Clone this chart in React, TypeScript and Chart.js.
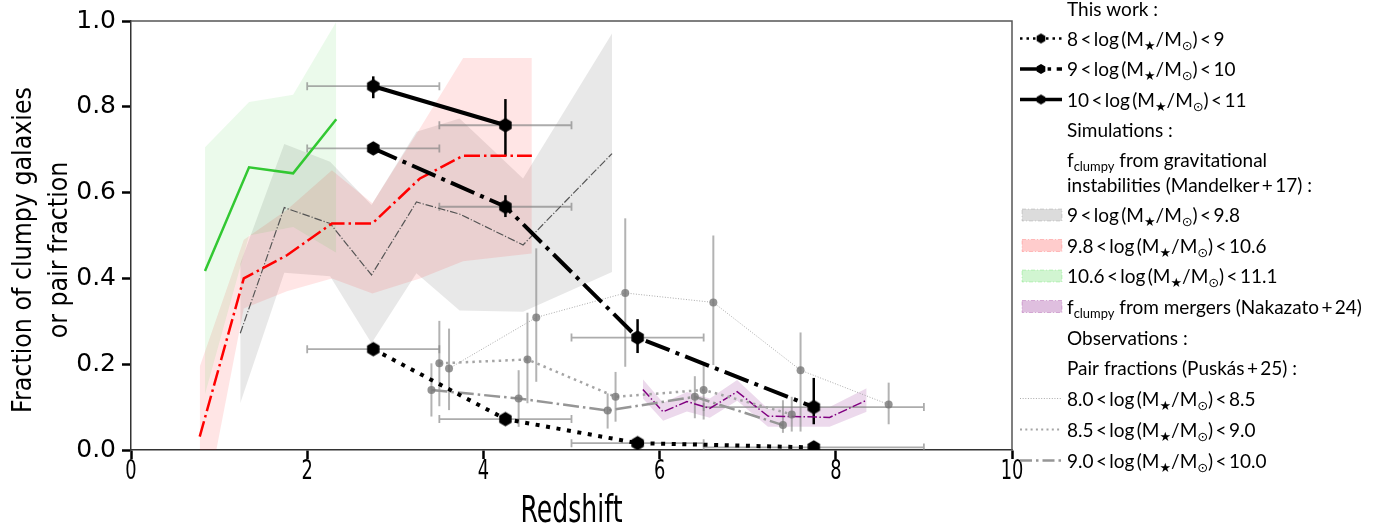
import React, { useEffect, useRef } from 'react';
import { Chart, registerables } from 'chart.js';

Chart.register(...registerables);

const W = 1382;
const H = 531;
const PLOT_LEFT = 131;
const PLOT_RIGHT = 1012;
const PLOT_TOP = 20.5;
const PLOT_BOTTOM = 450;

// ---------- This work ----------
const workZ = [2.75, 4.25, 5.75, 7.75];
const workXLo = [2.0, 3.5, 5.0, 6.5];
const workXHi = [3.5, 5.0, 6.5, 9.0];

const work1Y = [0.235, 0.072, 0.016, 0.006];
const work1YLo = [0.23, 0.067, 0.012, 0.003];
const work1YHi = [0.24, 0.077, 0.02, 0.009];

const work2Y = [0.703, 0.567, 0.262, 0.1];
const work2YLo = [0.692, 0.543, 0.226, 0.06];
const work2YHi = [0.714, 0.594, 0.305, 0.168];

const work3Z = [2.75, 4.25];
const work3Y = [0.848, 0.757];
const work3YLo = [0.82, 0.685];
const work3YHi = [0.871, 0.818];

// ---------- Simulations (Mandelker+17) ----------
const simGrayZ = [1.24, 1.74, 2.26, 2.73, 3.24, 3.73, 4.45, 5.46];
const simGrayMed = [0.272, 0.565, 0.528, 0.408, 0.578, 0.55, 0.478, 0.691];
const simGrayLo = [0.109, 0.413, 0.405, 0.249, 0.412, 0.325, 0.322, 0.415];
const simGrayHi = [0.434, 0.713, 0.672, 0.571, 0.742, 0.773, 0.633, 0.971];

const simRedZ = [0.78, 1.28, 1.77, 2.28, 2.74, 3.28, 3.77, 4.55];
const simRedMed = [0.031, 0.4, 0.454, 0.528, 0.528, 0.633, 0.686, 0.686];
const simRedLo = [-0.2, 0.33, 0.37, 0.4, 0.365, 0.4, 0.44, 0.458];
const simRedHi = [0.194, 0.49, 0.56, 0.652, 0.575, 0.75, 0.914, 0.914];

const simGreenZ = [0.84, 1.34, 1.84, 2.33];
const simGreenMed = [0.417, 0.659, 0.645, 0.771];
const simGreenLo = [0.13, 0.5, 0.52, 0.46];
const simGreenHi = [0.706, 0.811, 0.828, 0.998];

// ---------- Mergers (Nakazato+24) ----------
const nakZ = [5.81, 6.04, 6.31, 6.57, 6.88, 7.23, 7.52, 7.93, 8.35];
const nakMed = [0.141, 0.089, 0.113, 0.097, 0.136, 0.079, 0.078, 0.076, 0.116];
const nakLo = [0.12, 0.068, 0.09, 0.075, 0.115, 0.054, 0.054, 0.054, 0.089];
const nakHi = [0.165, 0.11, 0.135, 0.12, 0.163, 0.096, 0.1, 0.1, 0.144];

// ---------- Observations (Puskás+25) ----------
const obsAZ = [3.61, 4.6, 5.61, 6.61, 7.6, 8.6];
const obsAY = [0.19, 0.309, 0.366, 0.344, 0.186, 0.106];
const obsALo = [0.093, 0.159, 0.194, 0.198, 0.043, 0.06];
const obsAHi = [0.283, 0.47, 0.54, 0.5, 0.274, 0.157];

const obsBZ = [3.5, 4.5, 5.5, 6.5, 7.5];
const obsBY = [0.202, 0.211, 0.124, 0.14, 0.083];
const obsBLo = [0.102, 0.109, 0.066, 0.071, 0.043];
const obsBHi = [0.301, 0.32, 0.182, 0.198, 0.124];

const obsCZ = [3.41, 4.4, 5.41, 6.4, 7.4];
const obsCY = [0.14, 0.12, 0.092, 0.124, 0.058];
const obsCLo = [0.078, 0.054, 0.05, 0.074, 0.04];
const obsCHi = [0.202, 0.186, 0.132, 0.172, 0.116];

// ---------- Axis ticks ----------
const xTickValues = [0, 2, 4, 6, 8, 10];
const yTickValues = [0, 0.2, 0.4, 0.6, 0.8, 1.0];

const pts = (xs: number[], ys: number[]) => xs.map((x, i) => ({ x, y: ys[i] }));

function makeHex(r: number, color: string): HTMLCanvasElement {
  const s = Math.ceil(2 * r + 2);
  const c = document.createElement('canvas');
  c.width = s;
  c.height = s;
  const g = c.getContext('2d')!;
  g.fillStyle = color;
  g.beginPath();
  for (let k = 0; k < 6; k++) {
    const a = -Math.PI / 2 + (k * Math.PI) / 3;
    const px = s / 2 + r * Math.cos(a);
    const py = s / 2 + r * Math.sin(a);
    if (k === 0) g.moveTo(px, py);
    else g.lineTo(px, py);
  }
  g.closePath();
  g.fill();
  return c;
}

type Run = { t: string; sub?: boolean };
const LEG_FONT = 'Lato, "DejaVu Sans", sans-serif';

function drawRich(ctx: CanvasRenderingContext2D, x: number, y: number, runs: Run[], size: number) {
  let cx = x;
  for (const r of runs) {
    const fs = r.sub ? size * 0.68 : size;
    ctx.font = `${fs}px ${LEG_FONT}`;
    ctx.fillText(r.t, cx, r.sub ? y + size * 0.22 : y);
    cx += ctx.measureText(r.t).width;
  }
}

const SP = '\u2009';
const massRuns = (lo: string, hi: string): Run[] => [
  { t: `${lo}${SP}<${SP}log${SP}(M` },
  { t: '★', sub: true },
  { t: '/M' },
  { t: '⊙', sub: true },
  { t: `)${SP}<${SP}${hi}` },
];

export default function App() {
  const ref = useRef<HTMLCanvasElement>(null);

  useEffect(() => {
    const canvas = ref.current;
    if (!canvas) return;
    const hex = makeHex(7.2, '#000');
    const hexSmall = makeHex(5, '#000');
    const obsCol = 'rgba(120,120,120,0.8)';

    const lineDs = (label: string, data: any[], color: string, width: number, dash: number[], extra: any = {}) => ({
      label,
      data,
      borderColor: color,
      backgroundColor: color,
      borderWidth: width,
      borderDash: dash,
      borderCapStyle: 'butt',
      pointRadius: 0,
      tension: 0,
      fill: false,
      ...extra,
    });

    const datasets: any[] = [];
    datasets.push(lineDs('w3', pts(work3Z, work3Y), '#000', 4, [], { pointStyle: hex, pointRadius: 6 }));
    datasets.push(lineDs('w2', pts(workZ, work2Y), '#000', 4, [25.6, 6.4, 4, 6.4], { pointStyle: hex, pointRadius: 6 }));
    datasets.push(lineDs('w1', pts(workZ, work1Y), '#000', 4, [4, 6.6], { pointStyle: hex, pointRadius: 6 }));
    datasets.push(lineDs('obsC', pts(obsCZ, obsCY), 'rgba(150,150,150,1)', 2.5, [16, 4, 2.5, 4], { pointRadius: 4, pointBackgroundColor: obsCol, pointBorderWidth: 0 }));
    datasets.push(lineDs('obsB', pts(obsBZ, obsBY), 'rgba(165,165,165,1)', 2.5, [2.5, 4.1], { pointRadius: 4, pointBackgroundColor: obsCol, pointBorderWidth: 0 }));
    datasets.push(lineDs('obsA', pts(obsAZ, obsAY), 'rgba(170,170,170,1)', 1, [1, 1.65], { pointRadius: 4, pointBackgroundColor: obsCol, pointBorderWidth: 0 }));
    datasets.push(lineDs('nak', pts(nakZ, nakMed), 'rgb(128,0,128)', 1.5, [9.6, 2.4, 1.5, 2.4]));
    datasets.push(lineDs('green', pts(simGreenZ, simGreenMed), 'rgb(50,200,50)', 2.5, []));
    datasets.push(lineDs('red', pts(simRedZ, simRedMed), 'rgb(255,0,0)', 2.5, [16, 4, 2.5, 4]));
    datasets.push(lineDs('gray', pts(simGrayZ, simGrayMed), 'rgb(85,85,85)', 1.2, [7.7, 1.9, 1.2, 1.9]));

    const band = (name: string, xs: number[], lo: number[], hi: number[], fillColor: string) => {
      const hiIdx = datasets.length;
      datasets.push(lineDs(name + 'Hi', pts(xs, hi), 'rgba(0,0,0,0)', 0, [], { fill: { target: hiIdx + 1 }, backgroundColor: fillColor }));
      datasets.push(lineDs(name + 'Lo', pts(xs, lo), 'rgba(0,0,0,0)', 0, []));
    };
    band('nak', nakZ, nakLo, nakHi, 'rgba(128,0,128,0.15)');
    band('green', simGreenZ, simGreenLo, simGreenHi, 'rgba(0,190,0,0.08)');
    band('red', simRedZ, simRedLo, simRedHi, 'rgba(255,0,0,0.1)');
    band('gray', simGrayZ, simGrayLo, simGrayHi, 'rgba(128,128,128,0.18)');

    const errPlugin = {
      id: 'errbars',
      beforeDatasetsDraw(chart: any) {
        const { ctx, chartArea: a, scales } = chart;
        const xs = scales.x;
        const ys = scales.y;
        ctx.save();
        ctx.beginPath();
        ctx.rect(a.left, a.top, a.right - a.left, a.bottom - a.top);
        ctx.clip();
        const vbar = (x: number[], lo: number[], hi: number[], color: string, w: number) => {
          ctx.strokeStyle = color;
          ctx.lineWidth = w;
          ctx.setLineDash([]);
          x.forEach((xv, i) => {
            const px = xs.getPixelForValue(xv);
            ctx.beginPath();
            ctx.moveTo(px, ys.getPixelForValue(lo[i]));
            ctx.lineTo(px, ys.getPixelForValue(hi[i]));
            ctx.stroke();
          });
        };
        const hbar = (lo: number[], hi: number[], y: number[]) => {
          ctx.strokeStyle = 'rgba(128,128,128,0.65)';
          ctx.lineWidth = 1.8;
          ctx.setLineDash([]);
          y.forEach((yv, i) => {
            const py = ys.getPixelForValue(yv);
            const p0 = xs.getPixelForValue(lo[i]);
            const p1 = xs.getPixelForValue(hi[i]);
            ctx.beginPath();
            ctx.moveTo(p0, py);
            ctx.lineTo(p1, py);
            ctx.moveTo(p0, py - 4);
            ctx.lineTo(p0, py + 4);
            ctx.moveTo(p1, py - 4);
            ctx.lineTo(p1, py + 4);
            ctx.stroke();
          });
        };
        const obsErr = 'rgba(128,128,128,0.6)';
        vbar(obsAZ, obsALo, obsAHi, obsErr, 2);
        vbar(obsBZ, obsBLo, obsBHi, obsErr, 2);
        vbar(obsCZ, obsCLo, obsCHi, obsErr, 2);
        hbar(workXLo, workXHi, work1Y);
        hbar(workXLo, workXHi, work2Y);
        hbar(workXLo.slice(0, 2), workXHi.slice(0, 2), work3Y);
        vbar(workZ, work1YLo, work1YHi, '#000', 2.5);
        vbar(workZ, work2YLo, work2YHi, '#000', 2.5);
        vbar(work3Z, work3YLo, work3YHi, '#000', 2.5);
        ctx.restore();
      },
      afterDatasetsDraw(chart: any) {
        const { ctx, chartArea: a } = chart;
        ctx.save();
        ctx.strokeStyle = '#555';
        ctx.lineWidth = 1.5;
        ctx.setLineDash([]);
        ctx.beginPath();
        ctx.moveTo(a.left, a.top);
        ctx.lineTo(a.right, a.top);
        ctx.lineTo(a.right, a.bottom);
        ctx.stroke();
        ctx.restore();
      },
      afterDraw(chart: any) {
        const { ctx, chartArea: a, scales } = chart;
        ctx.save();
        ctx.fillStyle = '#000';
        // x tick labels (condensed)
        ctx.font = '27px "DejaVu Sans"';
        ctx.textAlign = 'center';
        ctx.textBaseline = 'middle';
        scales.x.ticks.forEach((t: any) => {
          const px = scales.x.getPixelForValue(t.value);
          ctx.save();
          ctx.translate(px, 472);
          ctx.scale(0.66, 1);
          ctx.fillText(String(t.value), 0, 0);
          ctx.restore();
        });
        // x title
        ctx.font = '37px "DejaVu Sans"';
        ctx.save();
        ctx.translate((a.left + a.right) / 2, 512);
        ctx.scale(0.68, 1);
        ctx.fillText('Redshift', 0, 0);
        ctx.restore();
        // y title
        ctx.save();
        ctx.translate(0, 250);
        ctx.rotate(-Math.PI / 2);
        ctx.scale(0.88, 1);
        ctx.font = '27px "DejaVu Sans"';
        ctx.textBaseline = 'alphabetic';
        ctx.fillText('Fraction of clumpy galaxies', 0, 31);
        ctx.fillText('or pair fraction', 0, 67);
        ctx.restore();

        // legend
        ctx.textAlign = 'left';
        ctx.textBaseline = 'alphabetic';
        const size = 19;
        const tx = 1067;
        const hx0 = 1020;
        const hx1 = 1062;
        const base = (cy: number) => cy + 7;
        const line = (cy: number, color: string, w: number, dash: number[]) => {
          ctx.strokeStyle = color;
          ctx.lineWidth = w;
          ctx.setLineDash(dash);
          ctx.lineCap = 'butt';
          ctx.beginPath();
          ctx.moveTo(hx0, cy);
          ctx.lineTo(hx1, cy);
          ctx.stroke();
          ctx.setLineDash([]);
        };
        const marker = (cy: number) => ctx.drawImage(hexSmall, 1041 - hexSmall.width / 2, cy - hexSmall.height / 2);
        const patch = (cy: number, fill: string, edge: string) => {
          ctx.fillStyle = fill;
          ctx.fillRect(1022, cy - 6, 40, 12);
          ctx.strokeStyle = edge;
          ctx.lineWidth = 1;
          ctx.setLineDash([4, 2, 1, 2]);
          ctx.strokeRect(1022, cy - 6, 40, 12);
          ctx.setLineDash([]);
          ctx.fillStyle = '#000';
        };
        const rows: { y: number; runs: Run[]; handle?: (cy: number) => void }[] = [
          { y: 9, runs: [{ t: 'This work :' }] },
          { y: 38.5, runs: massRuns('8', '9'), handle: (cy) => { line(cy, '#000', 2.5, [2.5, 4]); marker(cy); } },
          { y: 69, runs: massRuns('9', '10'), handle: (cy) => { line(cy, '#000', 3.5, [22, 5.6, 3.5, 5.6]); marker(cy); } },
          { y: 99.5, runs: massRuns('10', '11'), handle: (cy) => { line(cy, '#000', 3.5, []); marker(cy); } },
          { y: 130, runs: [{ t: 'Simulations :' }] },
          { y: 160, runs: [{ t: 'f' }, { t: 'clumpy', sub: true }, { t: ' from gravitational' }] },
          { y: 185, runs: [{ t: `instabilities (Mandelker${SP}+${SP}17) :` }] },
          { y: 215, runs: massRuns('9', '9.8'), handle: (cy) => patch(cy, 'rgba(128,128,128,0.28)', 'rgba(128,128,128,0.3)') },
          { y: 245.5, runs: massRuns('9.8', '10.6'), handle: (cy) => patch(cy, 'rgba(255,0,0,0.2)', 'rgba(255,0,0,0.2)') },
          { y: 276, runs: massRuns('10.6', '11.1'), handle: (cy) => patch(cy, 'rgba(0,200,0,0.18)', 'rgba(0,200,0,0.2)') },
          { y: 306.5, runs: [{ t: 'f' }, { t: 'clumpy', sub: true }, { t: ` from mergers (Nakazato${SP}+${SP}24)` }], handle: (cy) => patch(cy, 'rgba(128,0,128,0.25)', 'rgba(128,0,128,0.25)') },
          { y: 337.5, runs: [{ t: 'Observations :' }] },
          { y: 368, runs: [{ t: `Pair fractions (Puskás${SP}+${SP}25) :` }] },
          { y: 398.5, runs: massRuns('8.0', '8.5'), handle: (cy) => line(cy, 'rgba(170,170,170,1)', 1, [1, 1.65]) },
          { y: 429.5, runs: massRuns('8.5', '9.0'), handle: (cy) => line(cy, 'rgba(165,165,165,1)', 2, [2, 3.3]) },
          { y: 460.5, runs: massRuns('9.0', '10.0'), handle: (cy) => line(cy, 'rgba(150,150,150,1)', 2.5, [12, 4, 2.5, 4]) },
        ];
        rows.forEach((r) => {
          if (r.handle) r.handle(r.y);
          ctx.fillStyle = '#000';
          drawRich(ctx, tx, base(r.y), r.runs, size);
        });
        ctx.restore();
      },
    };

    const chart = new Chart(canvas, {
      type: 'line',
      data: { datasets },
      options: {
        responsive: false,
        devicePixelRatio: 1,
        animation: false,
        events: [],
        layout: {
          autoPadding: false,
          padding: { left: 0, right: W - PLOT_RIGHT, top: PLOT_TOP, bottom: 0 },
        },
        plugins: {
          legend: { display: false },
          tooltip: { enabled: false },
          filler: { drawTime: 'beforeDatasetsDraw', propagate: false },
        },
        scales: {
          x: {
            type: 'linear',
            min: 0,
            max: 10,
            afterBuildTicks: (s: any) => {
              s.ticks = xTickValues.map((v) => ({ value: v }));
            },
            ticks: { display: false },
            grid: { drawOnChartArea: false, drawTicks: true, tickLength: 9, tickWidth: 2.5, tickColor: '#000' },
            border: { color: '#333', width: 1.5 },
            afterFit: (s: any) => {
              s.height = H - PLOT_BOTTOM;
            },
          },
          y: {
            type: 'linear',
            min: 0,
            max: 1,
            afterBuildTicks: (s: any) => {
              s.ticks = yTickValues.map((v) => ({ value: v }));
            },
            ticks: {
              color: '#000',
              font: { family: 'DejaVu Sans', size: 25 },
              padding: 6,
              callback: (v: any) => Number(v).toFixed(1),
            },
            grid: { drawOnChartArea: false, drawTicks: true, tickLength: 9, tickWidth: 2.5, tickColor: '#000' },
            border: { color: '#333', width: 1.5 },
            afterFit: (s: any) => {
              s.width = PLOT_LEFT;
            },
          },
        },
      } as any,
      plugins: [errPlugin],
    });
    return () => chart.destroy();
  }, []);

  return (
    <div style={{ position: 'fixed', left: 0, top: 0, width: W, height: H, background: '#fff' }}>
      <canvas ref={ref} width={W} height={H} style={{ width: W, height: H, display: 'block' }} />
    </div>
  );
}
